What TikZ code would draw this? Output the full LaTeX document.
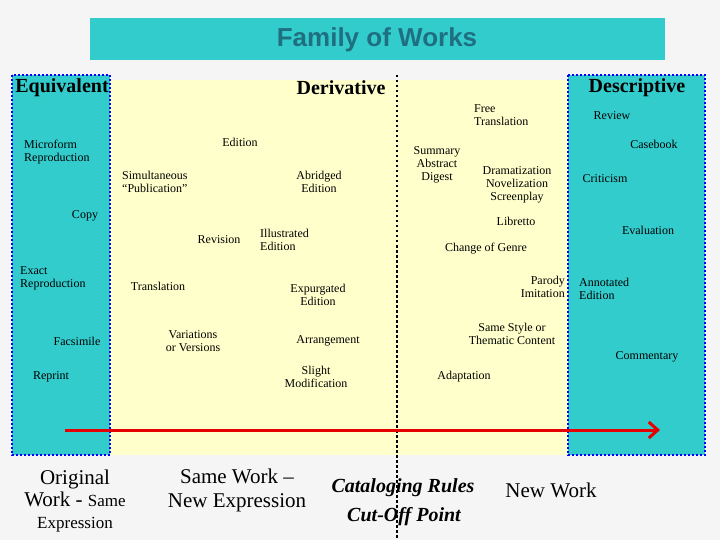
\documentclass[tikz,border=0pt]{standalone}
\usepackage{fontspec}
\usetikzlibrary{arrows.meta}
\setmainfont{Liberation Serif}
\newfontfamily\hfont{Liberation Sans}
\begin{document}
\begin{tikzpicture}[x=1pt,y=-1pt,
  lbl/.style={font=\fontsize{12}{13}\selectfont,align=center,inner sep=0pt},
  lbll/.style={lbl,align=left},
  head/.style={font=\bfseries\fontsize{20}{22}\selectfont,inner sep=0pt},
  big/.style={font=\fontsize{21}{24}\selectfont,align=center,inner sep=0pt},
  bigi/.style={font=\bfseries\itshape\fontsize{20}{22}\selectfont,inner sep=0pt}]
\definecolor{cy}{HTML}{33CCCC}
\definecolor{yl}{HTML}{FFFFCC}
\definecolor{tt}{HTML}{1F6F80}
\useasboundingbox (0,0) rectangle (720,540);
\fill[gray!8] (0,0) rectangle (720,540);
\fill[cy] (90,18) rectangle (665,60);
\node[font=\hfont\bfseries\fontsize{26}{28}\selectfont,text=tt] (title) at (377,40) {Family of Works};
\fill[yl] (110,80) rectangle (610,455);
\filldraw[fill=cy,draw=blue,line width=1.6pt,dash pattern=on 2pt off 2pt] (12,75) rectangle (110,455);
\filldraw[fill=cy,draw=blue,line width=1.6pt,dash pattern=on 2pt off 2pt] (568,75) rectangle (705,455);
\draw[line width=2.2pt,dash pattern=on 2.5pt off 2.5pt] (397,75) -- (397,540);
\node[head] (eq) at (62,88) {Equivalent};
\node[head] (der) at (341,88) {Derivative};
\node[head] (des) at (637,88) {Descriptive};
\node[lbll,anchor=west] (mic) at (24,152) {Microform\\Reproduction};
\node[lbl] (ed) at (240,142) {Edition};
\node[lbll,anchor=west] (sim) at (122,182) {Simultaneous\\``Publication''};
\node[lbl] (abr) at (319,182) {Abridged\\Edition};
\node[lbl] (copy) at (85,216) {Copy};
\node[lbl] (rev) at (219,240) {Revision};
\node[lbll,anchor=west] (ill) at (260,240) {Illustrated\\Edition};
\node[lbll,anchor=west] (ex) at (20,278) {Exact\\Reproduction};
\node[lbl] (tr) at (158,286) {Translation};
\node[lbl] (exp) at (318,295) {Expurgated\\Edition};
\node[lbl] (fac) at (77,341) {Facsimile};
\node[lbl] (var) at (193,341) {Variations\\or Versions};
\node[lbl] (arr) at (328,341) {Arrangement};
\node[lbl] (rep) at (51,377) {Reprint};
\node[lbl] (sl) at (316,377) {Slight\\Modification};
\node[lbll,anchor=west] (ft) at (474,115) {Free\\Translation};
\node[lbl] (sum) at (437,165) {Summary\\Abstract\\Digest};
\node[lbl] (dra) at (517,185) {Dramatization\\Novelization\\Screenplay};
\node[lbl] (lib) at (516,221) {Libretto};
\node[lbl] (cg) at (486,249) {Change of Genre};
\node[lbll,anchor=east,align=right] (par) at (565,287) {Parody\\Imitation};
\node[lbl] (ss) at (512,334) {Same Style or\\Thematic Content};
\node[lbl] (ad) at (464,377) {Adaptation};
\node[lbl] (revw) at (612,116) {Review};
\node[lbl] (cb) at (654,144) {Casebook};
\node[lbl] (cr) at (605,179) {Criticism};
\node[lbl] (ev) at (648,230) {Evaluation};
\node[lbll,anchor=west] (ann) at (579,289) {Annotated\\Edition};
\node[lbl] (com) at (647,357) {Commentary};
\coordinate (a1) at (65,430);
\coordinate (a2) at (660,430);
\draw[red!90!black,line width=3pt,-{Straight Barb[length=9pt,width=16pt]}] (a1) -- (a2);
\node[big] (orig) at (75,501) {Original\\[-2pt]Work - {\fontsize{17}{20}\selectfont Same}\\[-2pt]{\fontsize{17}{20}\selectfont Expression}};
\node[big] (same) at (237,490) {Same Work --\\New Expression};
\node[bigi] (cat) at (403,488) {Cataloging Rules};
\node[bigi] (cut) at (404,517) {Cut-Off Point};
\node[big] (nw) at (551,490) {New Work};
\end{tikzpicture}
\end{document}
